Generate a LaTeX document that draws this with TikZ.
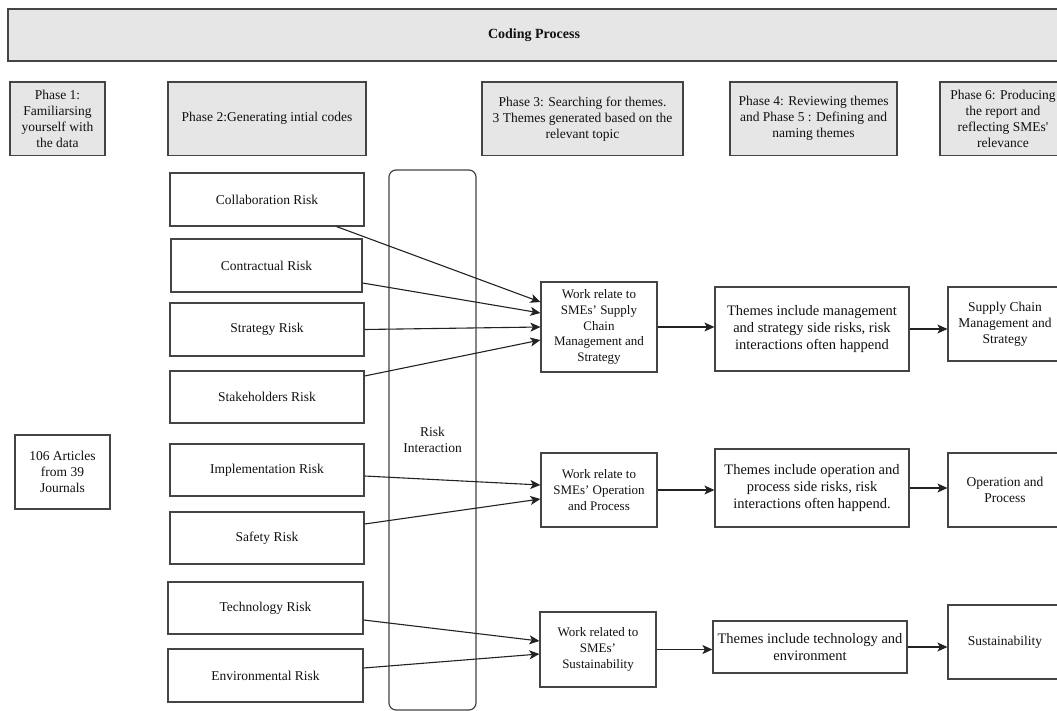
\documentclass[tikz,border=0pt]{standalone}
\usepackage{fontspec}
\setmainfont{Liberation Serif}
\usetikzlibrary{arrows.meta}
\definecolor{lineg}{HTML}{444444}
\definecolor{phasefill}{HTML}{E6E6E6}
\definecolor{txt}{HTML}{111111}
\definecolor{conn}{HTML}{222222}
\tikzset{
  base/.style={draw=lineg, line width=1.2pt, inner sep=0pt, align=center, text=txt,
    font=\fontsize{13.5}{16}\selectfont},
  phasebox/.style={base, fill=phasefill},
  riskbox/.style={base, fill=white},
  workbox/.style={base, fill=white, font=\fontsize{13}{15.7}\selectfont},
  themebox/.style={base, fill=white, font=\fontsize{14.5}{17}\selectfont},
  conarrow/.style={draw=conn, line width=1.1pt, -{Stealth[length=10pt,width=9pt,inset=2.5pt]}},
}
\begin{document}
\begin{tikzpicture}[x=1pt,y=-1pt]
\useasboundingbox (0,0) rectangle (1057,711);
\clip (0,0) rectangle (1057,711);
% banner
\node[phasebox, minimum width=1052pt, minimum height=52pt, font=\bfseries\fontsize{14}{16}\selectfont] (banner) at (534,35) {Coding Process};
% phases
\node[phasebox, minimum width=95pt, minimum height=73.5pt] (ph1) at (57.5,118.75) {Phase 1:\\Familiarsing\\yourself with\\the data};
\node[phasebox, minimum width=198pt, minimum height=73.5pt] (ph2) at (267,118.75) {Phase 2:Generating intial codes};
\node[phasebox, minimum width=201pt, minimum height=73.5pt] (ph3) at (582.5,118.75) {Phase 3: Searching for themes.\\3 Themes generated based on the\\relevant topic};
\node[phasebox, minimum width=167pt, minimum height=73.5pt] (ph4) at (813.5,118.75) {Phase 4: Reviewing themes\\and Phase 5 : Defining and\\naming themes};
\node[phasebox, minimum width=126pt, minimum height=73.5pt] (ph6) at (1003,118.75) {Phase 6: Producing\\the report and\\reflecting SMEs\textquotesingle\\relevance};
% source
\node[riskbox, minimum width=95pt, minimum height=74pt] (art) at (62.5,472) {106 Articles\\from 39\\Journals};
% risk interaction
\node[base, rounded corners=7pt, minimum width=87pt, minimum height=540pt] (ri) at (432.5,440) {Risk\\Interaction};
% risks
\node[riskbox, minimum width=194pt, minimum height=53pt] (collab) at (267,199.5) {Collaboration Risk};
\node[riskbox, minimum width=191pt, minimum height=53pt] (contr) at (266.5,265.5) {Contractual Risk};
\node[riskbox, minimum width=194pt, minimum height=53pt] (strat) at (267,329.5) {Strategy Risk};
\node[riskbox, minimum width=194pt, minimum height=52pt] (stake) at (267,397) {Stakeholders Risk};
\node[riskbox, minimum width=194pt, minimum height=52pt] (impl) at (267,470) {Implementation Risk};
\node[riskbox, minimum width=194pt, minimum height=52pt] (safe) at (267,538) {Safety Risk};
\node[riskbox, minimum width=195pt, minimum height=52pt] (tech) at (265.5,608) {Technology Risk};
\node[riskbox, minimum width=195pt, minimum height=53pt] (env) at (265.5,675.5) {Environmental Risk};
% work boxes
\node[workbox, minimum width=116pt, minimum height=90pt] (wscm) at (599,327) {Work relate to\\SMEs’ Supply\\Chain\\Management and\\Strategy};
\node[workbox, minimum width=116pt, minimum height=74pt] (wop) at (599,490) {Work relate to\\SMEs’ Operation\\and Process};
\node[workbox, minimum width=116pt, minimum height=75pt] (wsus) at (598,649.5) {Work related to\\SMEs’\\Sustainability};
% theme boxes
\node[themebox, minimum width=194pt, minimum height=84pt] (tscm) at (812,329) {Themes include management\\and strategy side risks, risk\\interactions often happend};
\node[themebox, minimum width=194pt, minimum height=78pt] (top) at (812,488) {Themes include operation and\\process side risks, risk\\interactions often happend.};
\node[themebox, minimum width=194pt, minimum height=52pt] (tsus) at (810,647) {Themes include technology and\\environment};
% results
\node[riskbox, minimum width=114pt, minimum height=74pt] (scm) at (1005,324) {Supply Chain\\Management and\\Strategy};
\node[riskbox, minimum width=114pt, minimum height=74pt] (op) at (1005,490) {Operation and\\Process};
\node[riskbox, minimum width=114pt, minimum height=74pt] (sus) at (1005,642) {Sustainability};
% connectors risks -> work
\draw[conarrow] ([xshift=-28pt]collab.south east) -- ([yshift=25pt]wscm.west);
\draw[conarrow] ([yshift=-17.5pt]contr.east) -- ([yshift=14pt]wscm.west);
\draw[conarrow] (strat.east) -- (wscm.west);
\draw[conarrow] ([yshift=21pt]stake.east) -- ([yshift=-13pt]wscm.west);
\draw[conarrow] ([yshift=-6pt]impl.east) -- ([yshift=5pt]wop.west);
\draw[conarrow] ([yshift=14pt]safe.east) -- ([yshift=-9pt]wop.west);
\draw[conarrow] ([yshift=-12pt]tech.east) -- ([yshift=8.5pt]wsus.west);
\draw[conarrow] ([yshift=7.5pt]env.east) -- ([yshift=-4.5pt]wsus.west);
% work -> themes -> results
\draw[conarrow] (wscm.east) -- (wscm.east -| tscm.west);
\draw[conarrow] (tscm.east) -- (tscm.east -| scm.west);
\draw[conarrow] (wop.east) -- (wop.east -| top.west);
\draw[conarrow] (top.east) -- (top.east -| op.west);
\draw[conarrow] (wsus.east) -- (wsus.east -| tsus.west);
\draw[conarrow] (tsus.east) -- (tsus.east -| sus.west);
\end{tikzpicture}
\end{document}
